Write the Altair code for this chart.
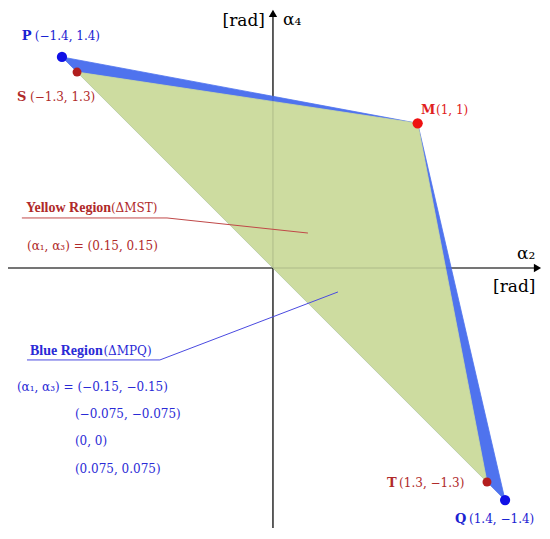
import altair as alt
import pandas as pd

# ---- data (vertex positions as drawn, in rad) ----
pt_names = ["P", "S", "M", "T", "Q"]
pt_x = [-1.40, -1.30, 0.96, 1.42, 1.54]
pt_y = [1.40, 1.30, 0.96, -1.42, -1.54]
pt_colors = ["#1010e6", "#b01e1e", "#ee1111", "#b41e1e", "#1010e6"]
pt_sizes = [105, 80, 105, 80, 105]

regions = ["MPQ", "MST"]
region_vertices = {"MPQ": ["M", "P", "Q"], "MST": ["M", "S", "T"]}
region_colors = {"MPQ": "#4f73ee", "MST": "#cddca0"}

XDOM = [-1.758, 1.785]
YDOM = [-1.725, 1.725]

# annotation texts
bold_text = ["P", "S", "M", "T", "Q"]
bold_x = [-1.666, -1.699, 0.982, 0.756, 1.208]
bold_y = [1.539, 1.135, 1.048, -1.427, -1.665]
bold_col = ["#1a22d2", "#b02a2a", "#e02020", "#b02a2a", "#1a22d2"]

title_text = ["Yellow Region", "Blue Region"]
title_x = [-1.639, -1.612]
title_y = [0.398, -0.551]
title_col = ["#b02a2a", "#2a2ad6"]

norm_text = ["(−1.4, 1.4)", "(−1.3, 1.3)", "(1, 1)", "(1.3, −1.3)", "(1.4, −1.4)",
             "(ΔMST)", "(α₁, α₃) = (0.15, 0.15)", "(ΔMPQ)",
             "(α₁, α₃) = (−0.15, −0.15)", "(−0.075, −0.075)", "(0, 0)", "(0.075, 0.075)"]
norm_x = [-1.580, -1.612, 1.082, 0.837, 1.301, -1.075, -1.632, -1.125,
          -1.699, -1.314, -1.314, -1.314]
norm_y = [1.539, 1.135, 1.048, -1.427, -1.665, 0.398, 0.146, -0.551,
          -0.790, -0.969, -1.148, -1.334]
norm_col = ["#1a22d2", "#b02a2a", "#e02020", "#b02a2a", "#1a22d2", "#b02a2a", "#b02a2a",
            "#2a2ad6", "#2a2ad6", "#2a2ad6", "#2a2ad6", "#2a2ad6"]

axis_text = ["[rad]", "α₄", "α₂", "[rad]"]
axis_tx = [-0.053, 0.066, 1.619, 1.460]
axis_ty = [1.639, 1.645, 0.093, -0.126]
axis_align = ["right", "left", "left", "left"]

lead_name = ["yellow", "yellow", "yellow", "blue", "blue", "blue"]
lead_x = [-1.666, -0.703, 0.232, -1.632, -0.750, 0.431]
lead_y = [0.332, 0.332, 0.232, -0.610, -0.610, -0.159]
lead_colors = {"yellow": "#c04848", "blue": "#4a4ae0"}

FONT = "DejaVu Serif"
TITLE_FONT = "Liberation Serif"

xs = alt.Scale(domain=XDOM, nice=False, zero=False)
ys = alt.Scale(domain=YDOM, nice=False, zero=False)
X = alt.X("x:Q", scale=xs, axis=None)
Y = alt.Y("y:Q", scale=ys, axis=None)

pos = dict(zip(pt_names, zip(pt_x, pt_y)))

# ---- axes ----
axes_df = pd.DataFrame({"x": [XDOM[0], 0.0], "x2": [1.76, 0.0],
                        "y": [0.0, YDOM[0]], "y2": [0.0, 1.70]})
axes = alt.Chart(axes_df).mark_rule(color="black", strokeWidth=1.2).encode(
    x=X, y=Y, x2="x2:Q", y2="y2:Q")
axes_faint = alt.Chart(axes_df).mark_rule(color="black", strokeWidth=1, opacity=0.15).encode(
    x=X, y=Y, x2="x2:Q", y2="y2:Q")
arrow_r = alt.Chart(pd.DataFrame({"x": [1.755], "y": [0.0]})).mark_point(
    shape="triangle-right", filled=True, color="black", size=70, opacity=1).encode(x=X, y=Y)
arrow_u = alt.Chart(pd.DataFrame({"x": [0.0], "y": [1.69]})).mark_point(
    shape="triangle-up", filled=True, color="black", size=70, opacity=1).encode(x=X, y=Y)

# ---- polygons ----
poly_layers = []
for r in regions:
    verts = region_vertices[r]
    df = pd.DataFrame({"x": [pos[v][0] for v in verts], "y": [pos[v][1] for v in verts],
                       "o": list(range(len(verts)))})
    poly_layers.append(alt.Chart(df).mark_line(
        interpolate="linear-closed", fill=region_colors[r], stroke=region_colors[r],
        strokeWidth=0.8, fillOpacity=1).encode(x=X, y=Y, order="o:Q"))

# ---- leader lines ----
lead_df = pd.DataFrame({"x": lead_x, "y": lead_y, "name": lead_name, "o": list(range(len(lead_x)))})
lead_layers = []
for n, c in lead_colors.items():
    lead_layers.append(alt.Chart(lead_df).transform_filter(alt.datum.name == n).mark_line(
        color=c, strokeWidth=1).encode(x=X, y=Y, order="o:Q"))

# ---- points ----
pts_df = pd.DataFrame({"x": pt_x, "y": pt_y, "c": pt_colors, "s": pt_sizes})
pts = alt.Chart(pts_df).mark_circle(opacity=1).encode(
    x=X, y=Y, color=alt.Color("c:N", scale=None), size=alt.Size("s:Q", scale=None))

# ---- texts ----
bold_df = pd.DataFrame({"x": bold_x, "y": bold_y, "t": bold_text, "c": bold_col})
bold = alt.Chart(bold_df).mark_text(font=FONT, fontWeight="bold", fontSize=13,
                                    align="left", baseline="middle").encode(
    x=X, y=Y, text="t:N", color=alt.Color("c:N", scale=None))
title_df = pd.DataFrame({"x": title_x, "y": title_y, "t": title_text, "c": title_col})
titles = alt.Chart(title_df).mark_text(font=TITLE_FONT, fontWeight="bold", fontSize=14,
                                       align="left", baseline="middle").encode(
    x=X, y=Y, text="t:N", color=alt.Color("c:N", scale=None))
norm_df = pd.DataFrame({"x": norm_x, "y": norm_y, "t": norm_text, "c": norm_col})
norm = alt.Chart(norm_df).mark_text(font=FONT, fontSize=12, align="left",
                                    baseline="middle").encode(
    x=X, y=Y, text="t:N", color=alt.Color("c:N", scale=None))
ax_df = pd.DataFrame({"x": axis_tx, "y": axis_ty, "t": axis_text, "a": axis_align})
ax_txt_r = alt.Chart(ax_df).transform_filter(alt.datum.a == "right").mark_text(
    font=FONT, fontSize=17, align="right", baseline="middle", color="black").encode(
    x=X, y=Y, text="t:N")
ax_txt_l = alt.Chart(ax_df).transform_filter(alt.datum.a == "left").mark_text(
    font=FONT, fontSize=17, align="left", baseline="middle", color="black").encode(
    x=X, y=Y, text="t:N")

chart = alt.layer(
    axes, arrow_r, arrow_u, *poly_layers, axes_faint, *lead_layers, pts,
    bold, titles, norm, ax_txt_r, ax_txt_l
).properties(
    width=534, height=520, padding=0,
    autosize=alt.AutoSizeParams(type="none")
).configure_view(stroke=None)

chart.save("out.html", embed_options={"renderer": "svg", "actions": False})
